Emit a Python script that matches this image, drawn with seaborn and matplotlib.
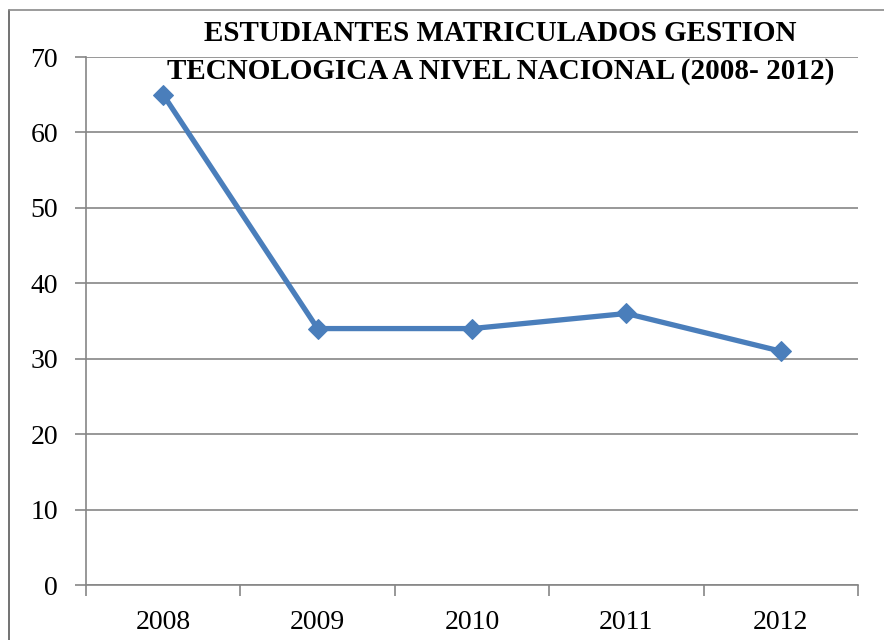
import numpy as np
import pandas as pd
import matplotlib
matplotlib.use('Agg')
import matplotlib.pyplot as plt
from matplotlib.lines import Line2D
import seaborn as sns

years = ['2008', '2009', '2010', '2011', '2012']
students = [65, 34, 34, 36, 31]
title = 'ESTUDIANTES MATRICULADOS GESTION\nTECNOLOGICA A NIVEL NACIONAL (2008- 2012)'

sns.set_style('white')
plt.rcParams['font.family'] = ['Liberation Serif', 'DejaVu Serif']

df = pd.DataFrame({'pos': np.arange(len(years)), 'value': students})

fig = plt.figure(figsize=(8.84, 6.4), dpi=100)
ax = fig.add_axes([0.0973, 0.0859, 0.8733, 0.825])

sns.lineplot(data=df, x='pos', y='value', ax=ax, color='#4a7ebb', linewidth=3.8,
             marker='D', markersize=10, markeredgecolor='#4a7ebb')

ax.set_xlim(-0.5, len(years) - 0.5)
ax.set_ylim(0, 70)
ax.set_yticks(range(0, 71, 10))
ax.set_xticks(df['pos'])
ax.set_xticklabels(years)
ax.set_xticks(np.arange(-0.5, len(years)), minor=True)
ax.tick_params(axis='x', which='major', length=0, pad=18, labelsize=20, labelcolor='black')
ax.tick_params(axis='x', which='minor', length=8, width=1.2, color='#868686', direction='out', bottom=True)
ax.tick_params(axis='y', length=8, width=1.2, color='#868686', direction='out', left=True, pad=12,
               labelsize=20, labelcolor='black')
ax.set_xlabel('')
ax.set_ylabel('')
ax.yaxis.grid(True, color='#868686', linewidth=1.2)
ax.xaxis.grid(False)
for s in ['top', 'right']:
    ax.spines[s].set_visible(False)
for s in ['left', 'bottom']:
    ax.spines[s].set_color('#868686')
    ax.spines[s].set_linewidth(1.2)

fig.text(0.566, 0.918, title, ha='center', va='center', fontsize=21,
         fontweight='bold', linespacing=1.5, color='black')

# outer frame (cut off at right and bottom)
fig.add_artist(Line2D([9 / 884, 9 / 884], [0, 1 - 10 / 640], transform=fig.transFigure, color='#5a5a5a', linewidth=1.2))
fig.add_artist(Line2D([9 / 884, 1], [1 - 10 / 640, 1 - 10 / 640], transform=fig.transFigure, color='#8a8a8a', linewidth=1.2))

fig.savefig('out.png', dpi=100)
